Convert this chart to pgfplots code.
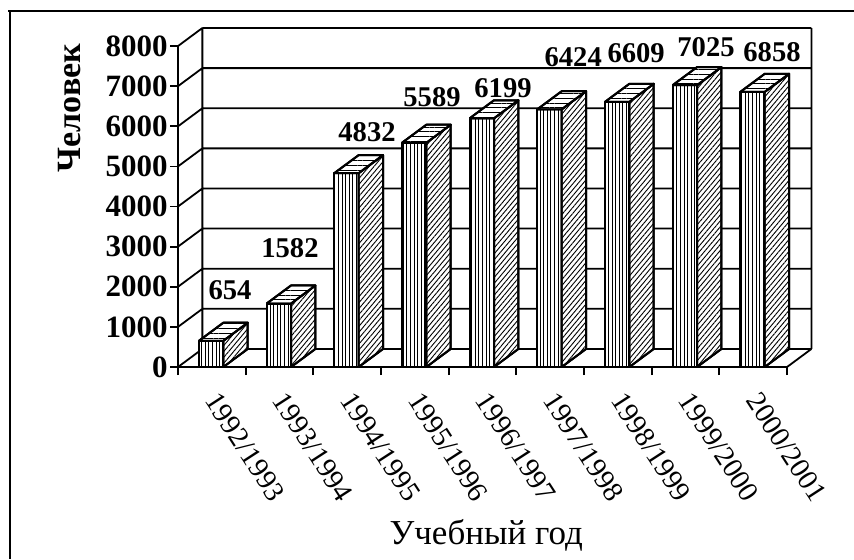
\documentclass[border=0pt]{standalone}
\usepackage{fontspec}
\setmainfont{Liberation Serif}
\usepackage{pgfplots}
\pgfplotsset{compat=1.18}
\usetikzlibrary{patterns.meta}
\begin{document}
\begin{tikzpicture}
\path[use as bounding box] (0,0) rectangle (427pt,279.5pt);
\draw[line width=1pt] (4pt,274pt) -- (427pt,274pt);
\draw[line width=1pt] (5pt,274.5pt) -- (5pt,0pt);
\begin{axis}[
  at={(89pt,96pt)}, anchor=south west,
  scale only axis, width=316.7pt, height=169.5pt,
  xmin=0, xmax=9.36, ymin=0, ymax=8450,
  clip=false,
  axis x line*=bottom, axis y line*=left,
  axis line style={draw=none},
  tick align=outside,
  major tick length=4pt,
  tick style={black, line width=0.9pt},
  xtick={0,1,...,9}, xticklabels={},
  extra x ticks={0.5,1.5,2.5,3.5,4.5,5.5,6.5,7.5,8.5},
  extra x tick labels={1992/1993,1993/1994,1994/1995,1995/1996,1996/1997,1997/1998,1998/1999,1999/2000,2000/2001},
  extra x tick style={tick style={draw=none}, xticklabel style={rotate=-57, anchor=west, font=\fontsize{14.3}{14}\selectfont, xshift=5pt, yshift=-5.5pt}},
  ytick={0,1000,...,8000},
  yticklabel style={font=\bfseries\fontsize{15.5}{16}\selectfont, inner sep=1pt},
  /pgf/number format/assume math mode=true,
  /pgf/number format/1000 sep={},
  ylabel={Человек},
  ylabel style={at={(rel axis cs:-0.1706,0.764)}, anchor=center, font=\bfseries\fontsize{17}{17}\selectfont},
  xlabel={Учебный год},
  xlabel style={at={(rel axis cs:0.4866,-0.4956)}, anchor=center, font=\fontsize{17.5}{17}\selectfont},
]
% walls and grid
\addplot[black, line width=0.9pt, mark=none, unbounded coords=jump] coordinates {
 (0.36,450)(9.36,450) (nan,nan)
 (0.36,1450)(9.36,1450) (nan,nan)
 (0.36,2450)(9.36,2450) (nan,nan)
 (0.36,3450)(9.36,3450) (nan,nan)
 (0.36,4450)(9.36,4450) (nan,nan)
 (0.36,5450)(9.36,5450) (nan,nan)
 (0.36,6450)(9.36,6450) (nan,nan)
 (0.36,7450)(9.36,7450) (nan,nan)
 (0.36,8450)(9.36,8450) (nan,nan)
 (0,0)(0.36,450) (nan,nan)
 (0,1000)(0.36,1450) (nan,nan)
 (0,2000)(0.36,2450) (nan,nan)
 (0,3000)(0.36,3450) (nan,nan)
 (0,4000)(0.36,4450) (nan,nan)
 (0,5000)(0.36,5450) (nan,nan)
 (0,6000)(0.36,6450) (nan,nan)
 (0,7000)(0.36,7450) (nan,nan)
 (0,8000)(0.36,8450) (nan,nan)
 (0.36,450)(0.36,8450) (nan,nan)
 (9.36,450)(9.36,8450) (nan,nan)
 (0,0)(0,8000) (nan,nan)
 (0,0)(9,0)(9.36,450)
};
% front faces
\addplot[mark=none, draw=black, line width=1pt, line join=round, preaction={fill=white},
  pattern={Lines[angle=90,distance=1.8pt,line width=0.45pt]}, unbounded coords=jump] coordinates {
(0.31,0)(0.67,0)(0.67,654)(0.31,654)(0.31,0) (nan,nan)
(1.31,0)(1.67,0)(1.67,1582)(1.31,1582)(1.31,0) (nan,nan)
(2.31,0)(2.67,0)(2.67,4832)(2.31,4832)(2.31,0) (nan,nan)
(3.31,0)(3.67,0)(3.67,5589)(3.31,5589)(3.31,0) (nan,nan)
(4.31,0)(4.67,0)(4.67,6199)(4.31,6199)(4.31,0) (nan,nan)
(5.31,0)(5.67,0)(5.67,6424)(5.31,6424)(5.31,0) (nan,nan)
(6.31,0)(6.67,0)(6.67,6609)(6.31,6609)(6.31,0) (nan,nan)
(7.31,0)(7.67,0)(7.67,7025)(7.31,7025)(7.31,0) (nan,nan)
(8.31,0)(8.67,0)(8.67,6858)(8.31,6858)(8.31,0)
};
% side faces
\addplot[mark=none, draw=black, line width=1pt, line join=round, preaction={fill=white},
  pattern={Lines[angle=50,distance=1.9pt,line width=0.45pt]}, unbounded coords=jump] coordinates {
(0.67,0)(1.03,450)(1.03,1104)(0.67,654)(0.67,0) (nan,nan)
(1.67,0)(2.03,450)(2.03,2032)(1.67,1582)(1.67,0) (nan,nan)
(2.67,0)(3.03,450)(3.03,5282)(2.67,4832)(2.67,0) (nan,nan)
(3.67,0)(4.03,450)(4.03,6039)(3.67,5589)(3.67,0) (nan,nan)
(4.67,0)(5.03,450)(5.03,6649)(4.67,6199)(4.67,0) (nan,nan)
(5.67,0)(6.03,450)(6.03,6874)(5.67,6424)(5.67,0) (nan,nan)
(6.67,0)(7.03,450)(7.03,7059)(6.67,6609)(6.67,0) (nan,nan)
(7.67,0)(8.03,450)(8.03,7475)(7.67,7025)(7.67,0) (nan,nan)
(8.67,0)(9.03,450)(9.03,7308)(8.67,6858)(8.67,0)
};
% top faces
\addplot[mark=none, draw=black, line width=1pt, line join=round, preaction={fill=white},
  pattern={Lines[angle=0,distance=2.4pt,line width=0.45pt]}, unbounded coords=jump] coordinates {
(0.31,654)(0.67,654)(1.03,1104)(0.67,1104)(0.31,654) (nan,nan)
(1.31,1582)(1.67,1582)(2.03,2032)(1.67,2032)(1.31,1582) (nan,nan)
(2.31,4832)(2.67,4832)(3.03,5282)(2.67,5282)(2.31,4832) (nan,nan)
(3.31,5589)(3.67,5589)(4.03,6039)(3.67,6039)(3.31,5589) (nan,nan)
(4.31,6199)(4.67,6199)(5.03,6649)(4.67,6649)(4.31,6199) (nan,nan)
(5.31,6424)(5.67,6424)(6.03,6874)(5.67,6874)(5.31,6424) (nan,nan)
(6.31,6609)(6.67,6609)(7.03,7059)(6.67,7059)(6.31,6609) (nan,nan)
(7.31,7025)(7.67,7025)(8.03,7475)(7.67,7475)(7.31,7025) (nan,nan)
(8.31,6858)(8.67,6858)(9.03,7308)(8.67,7308)(8.31,6858)
};
% value labels
\addplot[draw=none, mark=none, nodes near coords, point meta=explicit symbolic,
  nodes near coords style={anchor=center, font=\bfseries\fontsize{14.3}{14}\selectfont, inner sep=0pt}]
  table[meta=lab] {
x y lab
0.768 1919 654
1.655 2966 1582
2.793 5857 4832
3.754 6729 5589
4.803 6953 6199
5.840 7726 6424
6.770 7826 6609
7.803 7975 7025
8.778 7850 6858
};
\end{axis}
\end{tikzpicture}
\end{document}
